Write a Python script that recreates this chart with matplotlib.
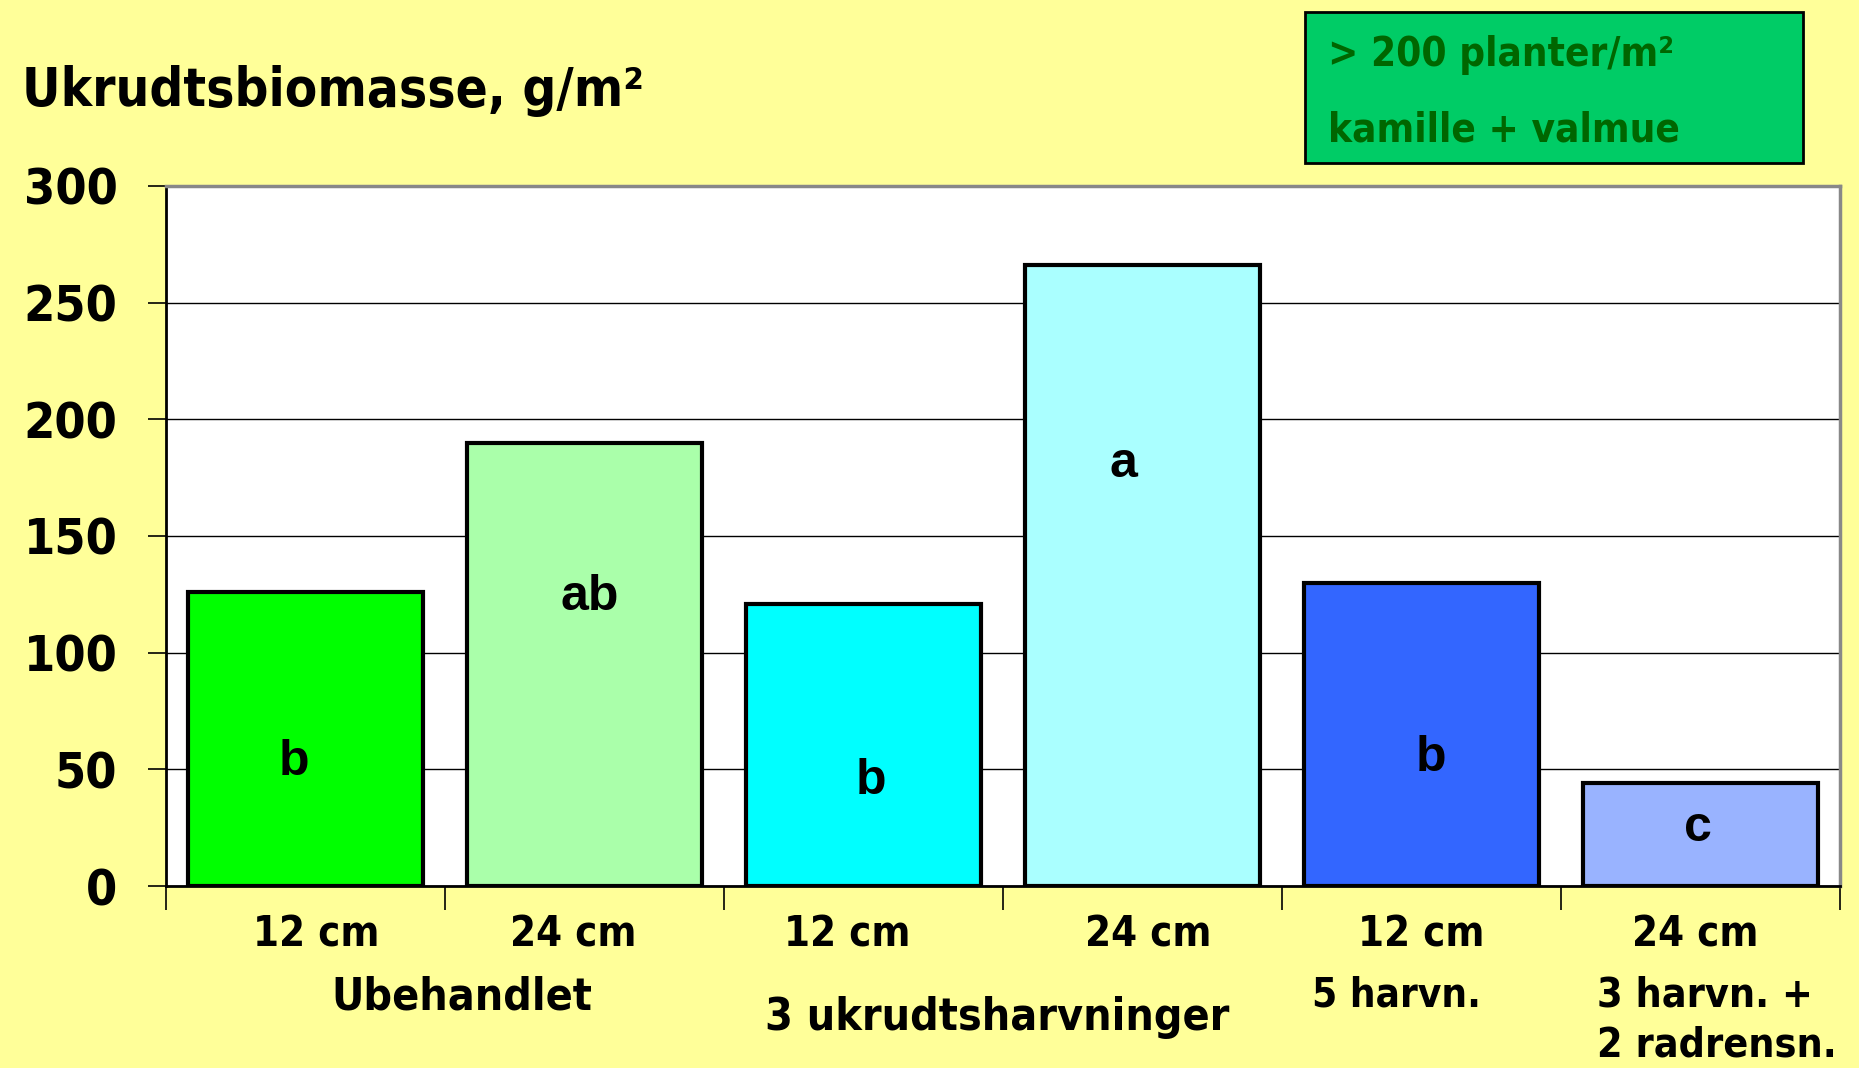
import numpy as np
import matplotlib
matplotlib.use("Agg")
import matplotlib.pyplot as plt

# data
spacing = ["12 cm", "24 cm", "12 cm", "24 cm", "12 cm", "24 cm"]
biomass = [126, 190, 121, 266, 130, 44]
letters = ["b", "ab", "b", "a", "b", "c"]
letter_y = [53, 124, 45, 181, 55, 25]
bar_colors = ["#00FF00", "#AAFFAA", "#00FFFF", "#AAFFFF", "#3366FF", "#99B3FF"]
yticks = [0, 50, 100, 150, 200, 250, 300]

# small hand placement nudges of the texts (as in the original slide)
letter_dx = [-0.04, 0.02, 0.025, -0.07, 0.035, -0.01]
label_dx = [0.04, -0.04, -0.06, 0.02, 0.0, -0.02]

BG = "#FFFF99"
narrow = dict(family="DejaVu Sans", stretch="condensed", fontweight="bold")

fig = plt.figure(figsize=(18.59, 10.68), dpi=100, facecolor=BG)
ax = fig.add_axes([0.0893, 0.1704, 0.9005, 0.6556])
ax.set_facecolor("white")

x = np.arange(len(biomass))
ax.bar(x, biomass, width=0.84, color=bar_colors, edgecolor="black",
       linewidth=3.0, zorder=3)

for xi, lab, ly, dx in zip(x, letters, letter_y, letter_dx):
    ax.text(xi + dx, ly, lab, ha="center", va="center", fontsize=36,
            fontweight="bold", family="Liberation Sans", zorder=4)

ax.set_xlim(-0.5, len(biomass) - 0.5)
ax.set_ylim(0, 300)
ax.set_yticks(yticks)
ax.set_yticklabels([str(v) for v in yticks], fontsize=36, **narrow)
ax.yaxis.grid(True, color="black", linewidth=1.0, zorder=0)
ax.tick_params(axis="y", direction="out", length=13, width=1.2, pad=22)

# category boundaries as ticks, labels under the bars
ax.set_xticks(np.arange(-0.5, len(biomass)), minor=True)
ax.set_xticks(x + np.array(label_dx))
ax.set_xticklabels(spacing, fontsize=30, **narrow)
ax.tick_params(axis="x", which="major", length=0, pad=20)
ax.tick_params(axis="x", which="minor", direction="out", length=17, width=1.2)

for s in ["left", "bottom"]:
    ax.spines[s].set_color("black")
    ax.spines[s].set_linewidth(2.0)
for s in ["top", "right"]:
    ax.spines[s].set_color("#888888")
    ax.spines[s].set_linewidth(2.5)

# group labels under the axis
tr = ax.get_xaxis_transform()
ax.text(0.56, -0.176, "Ubehandlet", transform=tr, ha="center", va="baseline",
        fontsize=32, **narrow)
ax.text(2.48, -0.205, "3 ukrudtsharvninger", transform=tr, ha="center",
        va="baseline", fontsize=32, **narrow)
ax.text(3.91, -0.172, "5 harvn.", transform=tr, ha="center", va="baseline",
        fontsize=29, **narrow)
ax.text(4.63, -0.172, "3 harvn. +", transform=tr, ha="left", va="baseline",
        fontsize=29.5, **narrow)
ax.text(4.63, -0.243, "2 radrensn.", transform=tr, ha="left", va="baseline",
        fontsize=29.5, **narrow)

# axis title
fig.text(22 / 1859, 1 - 106 / 1068, "Ukrudtsbiomasse, g/m²", fontsize=38,
         va="baseline", ha="left", **narrow)

# info box top right
box = matplotlib.patches.Rectangle((1305 / 1859, 1 - 163 / 1068), 498 / 1859,
                                   151 / 1068, transform=fig.transFigure,
                                   facecolor="#00CC66", edgecolor="black",
                                   linewidth=2.0)
fig.patches.append(box)
fig.text(1328 / 1859, 1 - 66 / 1068, "> 200 planter/m²", fontsize=29,
         color="#006600", va="baseline", **narrow)
fig.text(1328 / 1859, 1 - 142 / 1068, "kamille + valmue", fontsize=29,
         color="#006600", va="baseline", **narrow)

fig.savefig("out.png", dpi=100, facecolor=BG)
